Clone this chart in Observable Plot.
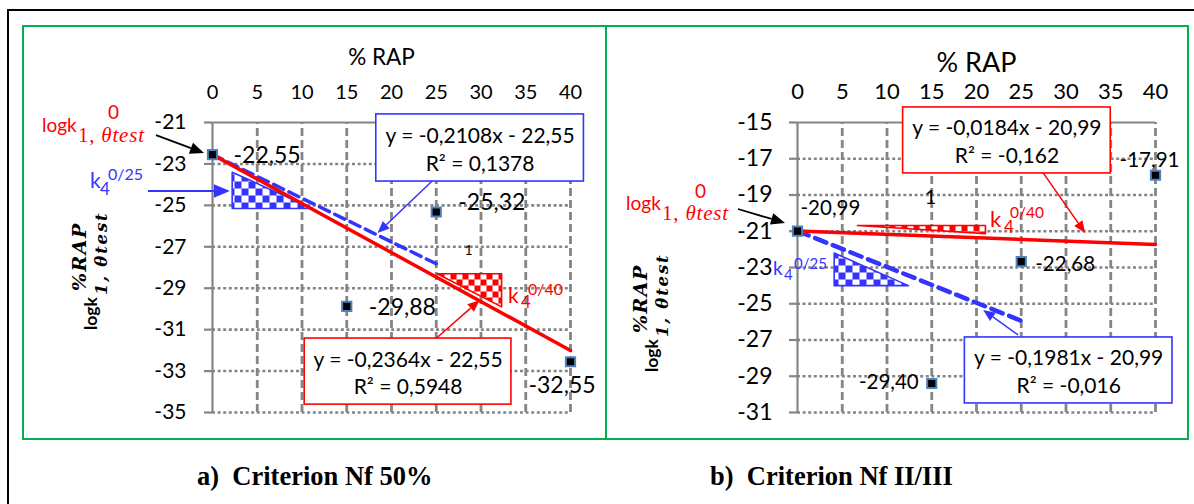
<!DOCTYPE html>
<html><head><meta charset="utf-8">
<script src="https://cdn.jsdelivr.net/npm/d3@7"></script>
<script src="https://cdn.jsdelivr.net/npm/@observablehq/plot@0.6"></script>
<style>
html,body{margin:0;padding:0;background:#fff;overflow:hidden;width:1194px;height:504px;}
#frame{position:absolute;left:7px;top:9px;width:1300px;height:600px;border:2.5px solid #000;box-sizing:border-box;}
.panel{position:absolute;top:25px;height:415px;border:2px solid #00b050;box-sizing:border-box;}
#pa{left:22px;width:585px;}
#pb{left:605px;width:584px;}
.panel svg{position:absolute;left:0;top:0;}
.cap{position:absolute;top:463px;font-family:"Liberation Serif";font-weight:bold;font-size:26.5px;line-height:26px;white-space:pre;}
</style></head>
<body>
<div id="frame"></div>
<div class="panel" id="pa"></div>
<div class="panel" id="pb"></div>
<div class="cap" id="ca" style="left:197px">a)  Criterion Nf 50%</div>
<div class="cap" id="cb" style="left:710px">b)  Criterion Nf II/III</div>
<script>
// ---------- data ----------
const xTicks = [0, 5, 10, 15, 20, 25, 30, 35, 40];
const xLabel = "% RAP";
const yTicksA = [-21, -23, -25, -27, -29, -31, -33, -35];
const yTicksB = [-15, -17, -19, -21, -23, -25, -27, -29, -31];

const rapA = [0, 15, 25, 40];
const logkA = [-22.55, -29.88, -25.32, -32.55];
const rapB = [0, 15, 25, 40];
const logkB = [-20.99, -29.40, -22.68, -17.91];

// trend lines (end points)
const redTrendAx = [0, 40], redTrendAy = [-22.55, -32.01];
const blueTrendAx = [0, 25], blueTrendAy = [-22.55, -27.82];
const redTrendBx = [0, 40], redTrendBy = [-20.99, -21.73];
const blueTrendBx = [0, 25], blueTrendBy = [-20.99, -25.94];

// equations
const eqBlueA = ["y = -0,2108x - 22,55", "R² = 0,1378"];
const eqRedA = ["y = -0,2364x - 22,55", "R² = 0,5948"];
const eqRedB = ["y = -0,0184x - 20,99", "R² = -0,162"];
const eqBlueB = ["y = -0,1981x - 20,99", "R² = -0,016"];

// slope triangles
const triBlueAx = [2.2, 2.2, 11.2, 2.2], triBlueAy = [-23.4, -25.15, -25.15, -23.4];
const triRedAx = [25.1, 32.3, 32.3, 25.1], triRedAy = [-28.3, -28.3, -29.9, -28.3];
const triBlueBx = [4.1, 4.1, 12.4, 4.1], triBlueBy = [-22.2, -24.0, -24.0, -22.2];
const triRedBx = [6.7, 21.0, 21.0, 6.7], triRedBy = [-20.68, -20.68, -21.13, -20.68];

const RED = "#ff0000", BLUE = "#3434ff", GRAY = "#858585", PT = "#4f81bd";
const fmt = v => v.toFixed(2).replace(".", ",");

// ---------- helpers ----------
function defsMark(id) {
  return () => {
    const g = d3.create("svg:g");
    const defs = g.append("defs");
    const pb = defs.append("pattern").attr("id", id + "-blue").attr("patternUnits", "userSpaceOnUse").attr("width", 14).attr("height", 14);
    pb.append("rect").attr("width", 14).attr("height", 14).attr("fill", "#fff");
    pb.append("rect").attr("width", 7).attr("height", 7).attr("fill", BLUE);
    pb.append("rect").attr("x", 7).attr("y", 7).attr("width", 7).attr("height", 7).attr("fill", BLUE);
    const pr = defs.append("pattern").attr("id", id + "-red").attr("patternUnits", "userSpaceOnUse").attr("width", 12).attr("height", 12);
    pr.append("rect").attr("width", 12).attr("height", 12).attr("fill", "#fff");
    pr.append("rect").attr("width", 6).attr("height", 6).attr("fill", RED);
    pr.append("rect").attr("x", 6).attr("y", 6).attr("width", 6).attr("height", 6).attr("fill", RED);
    return g.node();
  };
}
function arrowMark(list) {
  return (index, scales) => {
    const g = d3.create("svg:g");
    for (const a of list) {
      const x1 = scales.x(a.x1), y1 = scales.y(a.y1), x2 = scales.x(a.x2), y2 = scales.y(a.y2);
      const ang = Math.atan2(y2 - y1, x2 - x1), L = a.head, W = a.head * 0.42;
      const bx = x2 - L * Math.cos(ang), by = y2 - L * Math.sin(ang);
      g.append("line").attr("x1", x1).attr("y1", y1).attr("x2", bx).attr("y2", by)
        .attr("stroke", a.color).attr("stroke-width", a.width);
      g.append("path").attr("d", `M${x2},${y2}L${bx - W * Math.sin(ang)},${by + W * Math.cos(ang)}L${bx + W * Math.sin(ang)},${by - W * Math.cos(ang)}Z`)
        .attr("fill", a.color);
    }
    return g.node();
  };
}
function richMark(items) {
  return (index, scales) => {
    const g = d3.create("svg:g").attr("text-anchor", "start");
    for (const it of items) {
      const px = it.px != null ? it.px : scales.x(it.x);
      const py = it.py != null ? it.py : scales.y(it.y);
      const gg = g.append("g").attr("transform", `translate(${px},${py}) rotate(${it.rot || 0})`);
      for (const p of it.parts) {
        const t = gg.append("text").attr("x", p.dx).attr("y", p.dy).attr("font-size", p.size)
          .attr("text-anchor", "start")
          .attr("fill", p.fill || "#000").attr("font-weight", p.weight || "normal")
          .attr("font-family", p.family || "Lato").attr("letter-spacing", p.ls || 0);
        const spans = Array.isArray(p.t) ? p.t : [[p.t, p.style || "normal"]];
        for (const [s, st] of spans) t.append("tspan").attr("font-style", st).text(s);
      }
    }
    return g.node();
  };
}
function rows(xs, ys) { return xs.map((x, i) => ({x, y: ys[i]})); }
const logkParts = (dxSup, dySup) => [
  {t: "logk", dx: 0, dy: 0, size: 19, fill: RED},
  {t: "0", dx: dxSup, dy: dySup, size: 19, fill: RED},
  {t: [["1, ", "normal"], ["θtest", "italic"]], dx: 36, dy: 10, size: 21, fill: RED, family: "Liberation Serif", ls: 0.8}
];
const kParts = (col, sup, s) => [
  {t: "k", dx: 0, dy: 0, size: s.k, fill: col},
  {t: "4", dx: s.subDx, dy: s.subDy, size: s.sub, fill: col},
  {t: sup, dx: s.supDx, dy: s.supDy, size: s.sup, fill: col}
];
const yTitleParts = [
  {t: "logk", dx: 0, dy: 0, size: 17.5, weight: "bold"},
  {t: "1, θtest", dx: 35, dy: 10, size: 16.5, weight: "bold", family: "DejaVu Serif", style: "italic", ls: 1.8},
  {t: "%RAP", dx: 39, dy: -11, size: 19, weight: "bold", family: "DejaVu Serif", style: "italic", ls: 1.5}
];

function panel(o) {
  const yMin = d3.min(o.yTicks), yMax = d3.max(o.yTicks);
  const pts = rows(o.rap, o.logk);
  const labelMarks = o.labels.map((l, i) => Plot.text([pts[i]], {
    x: "x", y: "y", text: d => fmt(d.y), dx: l[0], dy: l[1], textAnchor: l[2], fontSize: o.ptFont
  }));
  const eqMarks = o.eqs.flatMap(e => [
    Plot.rect([e.box], {x1: "x1", x2: "x2", y1: "y1", y2: "y2", fill: "white", stroke: e.color, strokeWidth: 1.6}),
    Plot.text([e.box], {x: d => (d.x1 + d.x2) / 2, y: d => (d.y1 + d.y2) / 2, text: () => e.text.join("\n"),
      fontSize: 21, lineHeight: 1.33})
  ]);
  return Plot.plot({
    width: o.width, height: 411,
    marginLeft: o.ml, marginRight: o.width - o.ml - 358, marginTop: 95, marginBottom: 26,
    x: {domain: [0, 40]},
    y: {domain: [yMin, yMax]},
    style: {fontFamily: "Lato", fontSize: o.yFont + "px", color: "#000", background: "transparent", overflow: "visible"},
    marks: [
      defsMark(o.id),
      Plot.ruleX(xTicks.filter(d => d > 0), {x: d => d, y1: yMin, y2: yMax, stroke: GRAY, strokeWidth: 2.8, strokeDasharray: "8,4"}),
      Plot.ruleY(o.yTicks.filter(d => d < yMax), {y: d => d, x1: 0, x2: 40, stroke: GRAY, strokeWidth: 2.6, strokeDasharray: "3,2.6"}),
      Plot.ruleY([yMax], {y: d => d, x1: 0, x2: 40, stroke: GRAY, strokeWidth: 2.2}),
      Plot.ruleX([0], {x: d => d, y1: yMin, y2: yMax, stroke: GRAY, strokeWidth: 2.2}),
      Plot.axisY(o.yTicks, {tickSize: 8, tickPadding: o.yPad, stroke: GRAY, strokeWidth: 2.2, fill: "#000", fontSize: o.yFont, tickFormat: d => String(d), label: null}),
      Plot.axisX(xTicks, {anchor: "top", tickSize: 0, tickPadding: o.xPad, fill: "#000", fontSize: o.xFont, tickFormat: d => String(d), label: null}),
      Plot.text([xLabel], {frameAnchor: "top", text: d => d, dy: o.labDy, dx: o.labDx, fontSize: o.labFont}),
      Plot.line(rows(o.triB[0], o.triB[1]), {x: "x", y: "y", fill: `url(#${o.id}-blue)`, stroke: BLUE, strokeWidth: 1.6}),
      Plot.line(rows(o.triR[0], o.triR[1]), {x: "x", y: "y", fill: `url(#${o.id}-red)`, stroke: RED, strokeWidth: 1.6}),
      Plot.line(rows(o.blueT[0], o.blueT[1]), {x: "x", y: "y", stroke: BLUE, strokeWidth: o.bw, strokeDasharray: o.dash}),
      Plot.line(rows(o.redT[0], o.redT[1]), {x: "x", y: "y", stroke: RED, strokeWidth: 3.5}),
      Plot.dot(pts, {x: "x", y: "y", symbol: "square", r: 5.2, fill: "#000", stroke: PT, strokeWidth: 2}),
      ...labelMarks,
      ...eqMarks,
      Plot.text([o.one], {x: "x", y: "y", text: () => "1", fontSize: o.oneFont}),
      arrowMark(o.arrows),
      richMark(o.rich)
    ]
  });
}

const svgA = panel({
  id: "pa", width: 581, ml: 188, yTicks: yTicksA, rap: rapA, logk: logkA,
  yFont: 21, xFont: 20, yPad: 18, xPad: 24, labFont: 22.5, labDy: -73, labDx: -10, ptFont: 23,
  labels: [[21, 1, "start"], [22, 1, "start"], [22, -9, "start"], [-8.5, 23.5, "middle"]],
  triB: [triBlueAx, triBlueAy], triR: [triRedAx, triRedAy],
  blueT: [blueTrendAx, blueTrendAy], redT: [redTrendAx, redTrendAy], bw: 3.5, dash: "11,6",
  eqs: [
    {box: {x1: 18.3, x2: 41.5, y1: -20.61, y2: -23.85}, color: BLUE, text: eqBlueA},
    {box: {x1: 10.3, x2: 33.4, y1: -31.43, y2: -34.62}, color: RED, text: eqRedA}
  ],
  one: {x: 28.6, y: -27.18}, oneFont: 14,
  arrows: [
    {x1: -6.26, y1: -21.63, x2: -0.89, y2: -22.5, color: "#000", width: 1.8, head: 14},
    {x1: -7.15, y1: -24.33, x2: 2.0, y2: -24.33, color: BLUE, width: 1.8, head: 16},
    {x1: 24.6, y1: -23.85, x2: 18.5, y2: -26.36, color: BLUE, width: 1.5, head: 12},
    {x1: 25.1, y1: -31.43, x2: 29.9, y2: -29.6, color: RED, width: 1.5, head: 12}
  ],
  rich: [
    {x: -19.0, y: -21.48, parts: logkParts(66, -13)},
    {x: -13.63, y: -24.19, parts: kParts(BLUE, "0/25", {k: 21, sub: 17, subDx: 10, subDy: 7, sup: 16, supDx: 18, supDy: -8})},
    {x: 33.07, y: -29.74, parts: kParts(RED, "0/40", {k: 21, sub: 17, subDx: 13, subDy: 5, sup: 16, supDx: 20, supDy: -8})},
    {px: 73, py: 303, rot: -90, parts: yTitleParts}
  ]
});
document.getElementById("pa").appendChild(svgA);

const svgB = panel({
  id: "pb", width: 580, ml: 190, yTicks: yTicksB, rap: rapB, logk: logkB,
  yFont: 23, xFont: 22, yPad: 17, xPad: 24, labFont: 27, labDy: -70, labDx: 0, ptFont: 20.5,
  labels: [[3, -23, "start"], [-13, -1.5, "end"], [14, 3, "start"], [-6, -15, "middle"]],
  triB: [triBlueBx, triBlueBy], triR: [triRedBx, triRedBy],
  blueT: [blueTrendBx, blueTrendBy], redT: [redTrendBx, redTrendBy], bw: 4.5, dash: "12,7",
  eqs: [
    {box: {x1: 11.8, x2: 35.0, y1: -14.17, y2: -17.81}, color: RED, text: eqRedB},
    {box: {x1: 18.7, x2: 41.9, y1: -26.86, y2: -30.5}, color: BLUE, text: eqBlueB}
  ],
  one: {x: 14.86, y: -19.14}, oneFont: 20,
  arrows: [
    {x1: -6.6, y1: -19.8, x2: -1.34, y2: -20.57, color: "#000", width: 1.8, head: 14},
    {x1: 27.5, y1: -17.81, x2: 32.2, y2: -21.12, color: RED, width: 1.5, head: 12},
    {x1: 24.7, y1: -26.75, x2: 20.8, y2: -25.37, color: BLUE, width: 1.5, head: 12}
  ],
  rich: [
    {x: -19.1, y: -19.86, parts: logkParts(69, -12)},
    {x: -2.68, y: -23.44, parts: kParts(BLUE, "0/25", {k: 19, sub: 15, subDx: 11, subDy: 5, sup: 15, supDx: 21, supDy: -6})},
    {x: 21.56, y: -20.79, parts: kParts(RED, "0/40", {k: 22, sub: 17, subDx: 14, subDy: 6, sup: 15.5, supDx: 20, supDy: -9})},
    {px: 51, py: 345, rot: -90, parts: yTitleParts}
  ]
});
document.getElementById("pb").appendChild(svgB);
</script>
</body></html>
